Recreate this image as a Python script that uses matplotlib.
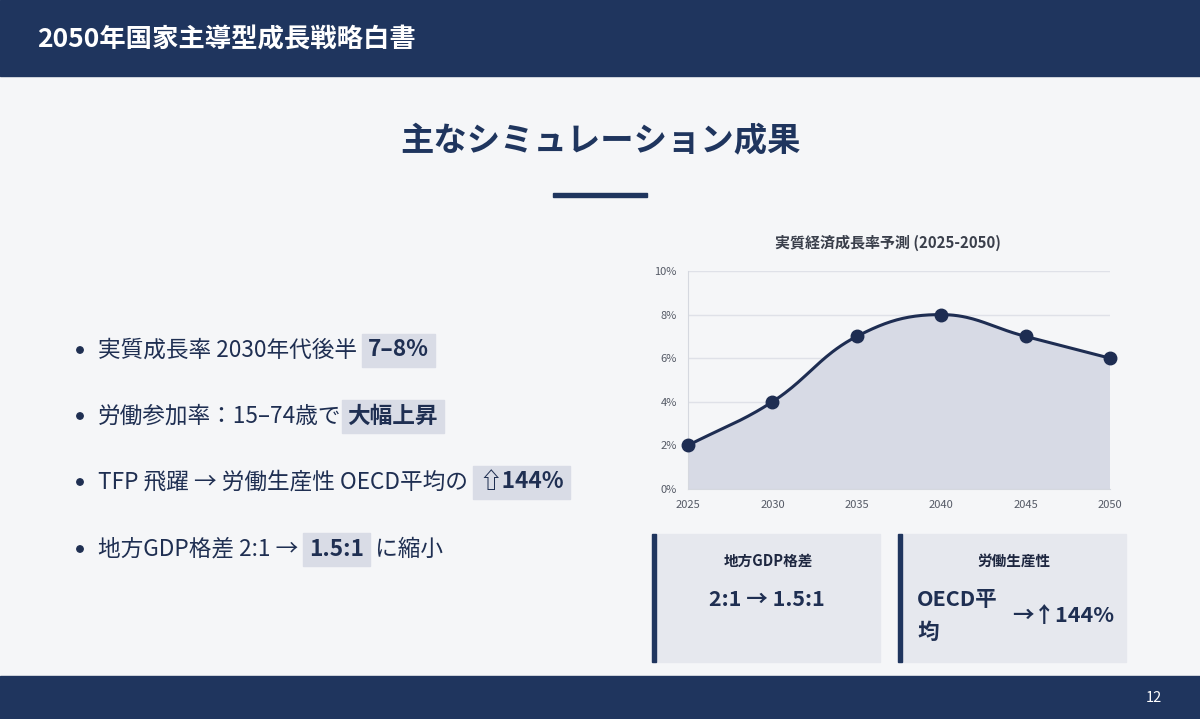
"""Slide: main simulation results with a smoothed growth-rate chart."""

import matplotlib

matplotlib.use("Agg")
import matplotlib.pyplot as plt
import numpy as np
from matplotlib.patches import Rectangle, Circle

plt.rcParams["font.family"] = ["Noto Sans CJK JP", "DejaVu Sans"]

NAVY = "#1f355e"
BG = "#f5f6f8"
TEXT = "#1f2f52"

years = [2025, 2030, 2035, 2040, 2045, 2050]
growth = [2, 4, 7, 8, 7, 6]
y_ticks = [0, 2, 4, 6, 8, 10]

header_title = "2050年国家主導型成長戦略白書"
slide_title = "主なシミュレーション成果"
chart_title = "実質経済成長率予測 (2025-2050)"
page_no = "12"

# (plain text before, highlighted text, plain text after)
bullets = [
    ("実質成長率 2030年代後半 ", "7–8%", ""),
    ("労働参加率：15–74歳で", "大幅上昇", ""),
    ("TFP 飛躍 → 労働生産性 OECD平均の ", "⇧144%", ""),
    ("地方GDP格差 2:1 → ", "1.5:1", " に縮小"),
]

cards = [
    ("地方GDP格差", "2:1 → 1.5:1"),
    ("労働生産性", "→↑144%"),
]


def chartjs_spline(px, py, tension=0.4, steps=40):
    """Cubic bezier through points, same control points as Chart.js."""
    n = len(px)
    pts = np.column_stack([px, py]).astype(float)
    cp_prev = np.zeros_like(pts)
    cp_next = np.zeros_like(pts)
    for i in range(n):
        prev = pts[max(i - 1, 0)]
        cur = pts[i]
        nxt = pts[min(i + 1, n - 1)]
        d01 = np.hypot(*(cur - prev))
        d12 = np.hypot(*(nxt - cur))
        tot = d01 + d12
        s01 = d01 / tot if tot else 0
        s12 = d12 / tot if tot else 0
        cp_prev[i] = cur - tension * s01 * (nxt - prev)
        cp_next[i] = cur + tension * s12 * (nxt - prev)
    t = np.linspace(0, 1, steps)[:, None]
    out = []
    for i in range(n - 1):
        p0, p1, p2, p3 = pts[i], cp_next[i], cp_prev[i + 1], pts[i + 1]
        seg = ((1 - t) ** 3) * p0 + 3 * ((1 - t) ** 2) * t * p1 + 3 * (1 - t) * t**2 * p2 + t**3 * p3
        out.append(seg if i == 0 else seg[1:])
    out = np.vstack(out)
    return out[:, 0], out[:, 1]


fig = plt.figure(figsize=(12, 7.19), dpi=100)
fig.patch.set_facecolor(BG)

bg = fig.add_axes([0, 0, 1, 1])
bg.set_xlim(0, 1200)
bg.set_ylim(719, 0)
bg.axis("off")

# header / footer bars
bg.add_patch(Rectangle((0, 0), 1200, 76, color=NAVY, zorder=1))
bg.text(37, 40, header_title, color="white", fontsize=19, fontweight="bold", va="center")
bg.add_patch(Rectangle((0, 676), 1200, 43, color=NAVY, zorder=1))
bg.text(1154, 698, page_no, color="white", fontsize=10.5, ha="center", va="center")

# slide title
bg.text(600, 142, slide_title, color=NAVY, fontsize=24, fontweight="bold", ha="center", va="center")
bg.add_patch(Rectangle((553, 193), 94, 4, color=NAVY))

# bullets with highlighted parts
renderer = fig.canvas.get_renderer()
row_y = [350, 416, 482, 549]
for (before, hl, after), y in zip(bullets, row_y):
    bg.add_patch(Circle((80, y), 3.2, color=TEXT))
    t1 = bg.text(98, y, before, fontsize=16.3, color=TEXT, va="center")
    x = t1.get_window_extent(renderer).x1
    t2 = bg.text(x + 6, y, hl, fontsize=16.3, color=TEXT, va="center", fontweight="bold")
    x2 = t2.get_window_extent(renderer).x1 + 6
    bg.add_patch(Rectangle((x, y - 16), x2 - x, 33, color="#d9dce6", zorder=0.5))
    if after:
        bg.text(x2, y, after, fontsize=16.3, color=TEXT, va="center")

# cards
for i, (label, value) in enumerate(cards):
    x0 = 652 + i * 246
    bg.add_patch(Rectangle((x0, 534), 228, 128, color="#e6e8ee", zorder=0.5))
    bg.add_patch(Rectangle((x0, 534), 4, 128, color=NAVY, zorder=0.6))
    bg.text(x0 + 116, 561, label, fontsize=10.5, fontweight="bold", color="#1e2740",
            ha="center", va="center")
    if i == 0:
        bg.text(x0 + 115, 599, value, fontsize=15.5, fontweight="bold", color=TEXT,
                ha="center", va="center")
    else:
        bg.text(x0 + 19, 599, "OECD平", fontsize=15.5, fontweight="bold", color=TEXT, va="center")
        bg.text(x0 + 19, 632, "均", fontsize=15.5, fontweight="bold", color=TEXT, va="center")
        bg.text(x0 + 114, 615, value, fontsize=15.5, fontweight="bold", color=TEXT, va="center")

# chart
bg.text(888, 243, chart_title, fontsize=10.8, fontweight="bold", color="#3a3f4b",
        ha="center", va="center")
ax = fig.add_axes([688 / 1200, 230 / 719, 422 / 1200, 218 / 719])
ax.set_facecolor("none")
ax.set_xlim(2025, 2050)
ax.set_ylim(0, 10)

px = (np.array(years) - 2025) / 25 * 422
py = np.array(growth) / 10 * 218
sx, sy = chartjs_spline(px, py)
cx = sx / 422 * 25 + 2025
cy = sy / 218 * 10

ax.fill(np.r_[cx, cx[-1], cx[0]], np.r_[cy, 0, 0], color="#d7dae5", lw=0, zorder=1)
ax.plot(cx, cy, color="#1e2d52", lw=2.2, zorder=3, clip_on=False)
ax.plot(years, growth, "o", color="#1e2d52", ms=9, zorder=4, clip_on=False)

ax.set_yticks(y_ticks)
ax.set_yticklabels([f"{v}%" for v in y_ticks])
ax.set_xticks(years)
ax.grid(axis="y", color="#dfe1e8", lw=1)
ax.set_axisbelow(True)
for side in ["top", "right"]:
    ax.spines[side].set_visible(False)
for side in ["left", "bottom"]:
    ax.spines[side].set_color("#d5d8df")
ax.tick_params(length=0, labelsize=8, colors="#555a66", pad=8)

fig.savefig("out.png", dpi=100, facecolor=BG)
